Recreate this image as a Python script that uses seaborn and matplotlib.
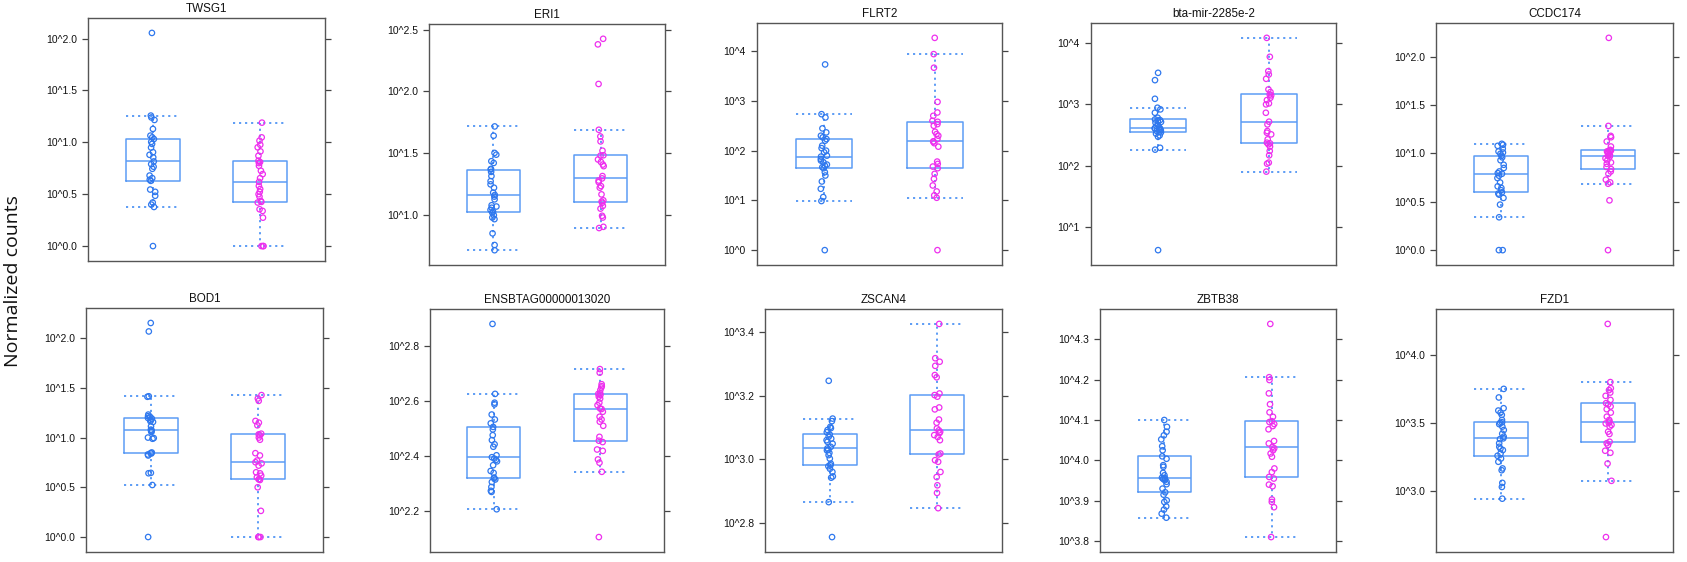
import numpy as np
import pandas as pd
import matplotlib
matplotlib.use("Agg")
import matplotlib.pyplot as plt
import seaborn as sns

# ---------------- data (log10 of normalized counts) ----------------
genes = ["TWSG1", "ERI1", "FLRT2", "bta-mir-2285e-2", "CCDC174",
         "BOD1", "ENSBTAG00000013020", "ZSCAN4", "ZBTB38", "FZD1"]
groups = ["group1", "group2"]

twsg1_g1 = [0.0, 0.377, 0.40, 0.42, 0.485, 0.523, 0.545, 0.629, 0.64, 0.655, 0.68, 0.745, 0.765, 0.79,
            0.816, 0.855, 0.88, 0.905, 0.95, 0.985, 1.005, 1.032, 1.048, 1.065, 1.129, 1.216, 1.24, 1.258, 2.055]
twsg1_g2 = [0.0, 0.0, 0.0, 0.274, 0.339, 0.355, 0.42, 0.426, 0.435, 0.477, 0.50, 0.523, 0.55, 0.58,
            0.619, 0.655, 0.694, 0.726, 0.774, 0.80, 0.81, 0.823, 0.871, 0.913, 0.952, 0.977, 1.016, 1.048, 1.19]

eri1_g1 = [0.717, 0.759, 0.853, 0.968, 0.981, 1.0, 1.021, 1.029, 1.043, 1.06, 1.07, 1.08, 1.128, 1.15,
           1.163, 1.182, 1.222, 1.249, 1.275, 1.316, 1.35, 1.369, 1.374, 1.422, 1.436, 1.489, 1.503, 1.642, 1.717]
eri1_g2 = [0.896, 0.906, 0.981, 0.995, 1.053, 1.075, 1.10, 1.11, 1.12, 1.168, 1.222, 1.235, 1.267, 1.28,
           1.297, 1.316, 1.396, 1.409, 1.43, 1.45, 1.481, 1.484, 1.521, 1.596, 1.636, 1.69, 2.06, 2.38, 2.425]

flrt2_g1 = [0.0, 0.987, 1.067, 1.233, 1.38, 1.5, 1.567, 1.647, 1.667, 1.70, 1.72, 1.767, 1.80, 1.833,
            1.88, 1.9, 1.967, 2.0, 2.05, 2.1, 2.2, 2.233, 2.267, 2.3, 2.367, 2.447, 2.667, 2.733, 3.733]
flrt2_g2 = [0.0, 1.053, 1.1, 1.18, 1.3, 1.433, 1.533, 1.647, 1.68, 1.733, 1.78, 2.08, 2.15, 2.18,
            2.187, 2.233, 2.3, 2.333, 2.38, 2.5, 2.533, 2.58, 2.6, 2.7, 2.767, 2.98, 3.667, 3.94, 4.267]

mir_g1 = [0.627, 2.26, 2.29, 2.47, 2.492, 2.52, 2.54, 2.551, 2.562, 2.575, 2.589, 2.60, 2.605, 2.61,
          2.616, 2.643, 2.66, 2.697, 2.71, 2.724, 2.74, 2.751, 2.778, 2.859, 2.914, 2.941, 3.086, 3.389, 3.508]
mir_g2 = [1.903, 2.032, 2.049, 2.168, 2.238, 2.31, 2.346, 2.362, 2.373, 2.427, 2.508, 2.535, 2.562, 2.67,
          2.714, 2.859, 2.995, 3.011, 3.065, 3.103, 3.141, 3.157, 3.195, 3.238, 3.411, 3.481, 3.535, 3.768, 4.076]

ccdc174_g1 = [0.0, 0.0, 0.34, 0.471, 0.54, 0.574, 0.585, 0.598, 0.62, 0.643, 0.66, 0.70, 0.746, 0.77,
              0.79, 0.797, 0.814, 0.85, 0.883, 0.93, 0.96, 0.976, 0.997, 1.01, 1.021, 1.05, 1.079, 1.09, 1.1]
ccdc174_g2 = [0.0, 0.515, 0.687, 0.701, 0.729, 0.79, 0.814, 0.838, 0.86, 0.893, 0.907, 0.93, 0.95, 0.969,
              0.976, 0.985, 0.997, 1.005, 1.015, 1.021, 1.03, 1.031, 1.038, 1.072, 1.124, 1.168, 1.182, 1.285, 2.196]

bod1_g1 = [0.0, 0.523, 0.641, 0.645, 0.82, 0.83, 0.84, 0.843, 0.85, 0.988, 0.995, 1.0, 1.056, 1.065,
           1.073, 1.08, 1.113, 1.157, 1.165, 1.174, 1.19, 1.197, 1.207, 1.215, 1.231, 1.41, 1.415, 2.067, 2.152]
bod1_g2 = [0.0, 0.0, 0.0, 0.263, 0.5, 0.573, 0.58, 0.583, 0.60, 0.617, 0.64, 0.651, 0.718, 0.74,
           0.752, 0.769, 0.82, 0.843, 0.978, 1.0, 1.022, 1.032, 1.039, 1.123, 1.15, 1.167, 1.369, 1.393, 1.427]

ens_g1 = [2.206, 2.269, 2.273, 2.287, 2.305, 2.314, 2.318, 2.321, 2.338, 2.345, 2.366, 2.38, 2.385, 2.39,
          2.395, 2.402, 2.433, 2.442, 2.457, 2.475, 2.496, 2.505, 2.518, 2.532, 2.55, 2.587, 2.593, 2.625, 2.879]
ens_g2 = [2.105, 2.342, 2.375, 2.387, 2.418, 2.423, 2.45, 2.455, 2.469, 2.509, 2.524, 2.532, 2.542, 2.56,
          2.57, 2.572, 2.584, 2.593, 2.608, 2.615, 2.621, 2.625, 2.627, 2.639, 2.648, 2.653, 2.66, 2.702, 2.715]

zscan4_g1 = [2.755, 2.865, 2.942, 2.946, 2.96, 2.97, 2.978, 2.981, 2.986, 3.002, 3.013, 3.02, 3.028, 3.03,
             3.034, 3.039, 3.049, 3.055, 3.06, 3.065, 3.071, 3.078, 3.085, 3.092, 3.098, 3.102, 3.12, 3.128, 3.247]
zscan4_g2 = [2.846, 2.894, 2.918, 2.944, 2.96, 2.992, 2.997, 3.015, 3.018, 3.06, 3.07, 3.076, 3.082, 3.086,
             3.091, 3.097, 3.115, 3.125, 3.157, 3.163, 3.197, 3.202, 3.207, 3.258, 3.265, 3.294, 3.307, 3.318, 3.426]

zbtb38_g1 = [3.858, 3.868, 3.878, 3.886, 3.897, 3.901, 3.915, 3.921, 3.93, 3.941, 3.947, 3.951, 3.954, 3.955,
             3.956, 3.957, 3.963, 3.969, 3.984, 3.988, 4.004, 4.01, 4.025, 4.035, 4.052, 4.062, 4.071, 4.083, 4.1]
zbtb38_g2 = [3.81, 3.884, 3.897, 3.903, 3.936, 3.94, 3.955, 3.959, 3.971, 3.98, 4.009, 4.017, 4.025, 4.03,
             4.033, 4.042, 4.048, 4.077, 4.085, 4.09, 4.095, 4.097, 4.108, 4.119, 4.139, 4.166, 4.199, 4.206, 4.338]

fzd1_g1 = [2.943, 3.029, 3.059, 3.152, 3.165, 3.214, 3.238, 3.258, 3.275, 3.3, 3.31, 3.324, 3.35, 3.38,
           3.386, 3.398, 3.42, 3.447, 3.472, 3.49, 3.5, 3.504, 3.521, 3.558, 3.575, 3.59, 3.607, 3.686, 3.749]
fzd1_g2 = [2.661, 3.074, 3.201, 3.28, 3.295, 3.337, 3.35, 3.361, 3.418, 3.435, 3.472, 3.484, 3.495, 3.5,
           3.509, 3.521, 3.545, 3.575, 3.6, 3.62, 3.635, 3.644, 3.668, 3.698, 3.722, 3.74, 3.754, 3.799, 4.226]

# y tick positions (log10) and their labels
ticks = [
    [0.0, 0.5, 1.0, 1.5, 2.0],
    [1.0, 1.5, 2.0, 2.5],
    [0, 1, 2, 3, 4],
    [1, 2, 3, 4],
    [0.0, 0.5, 1.0, 1.5, 2.0],
    [0.0, 0.5, 1.0, 1.5, 2.0],
    [2.2, 2.4, 2.6, 2.8],
    [2.8, 3.0, 3.2, 3.4],
    [3.8, 3.9, 4.0, 4.1, 4.2, 4.3],
    [3.0, 3.5, 4.0],
]
ticklabels = [
    ["10^0.0", "10^0.5", "10^1.0", "10^1.5", "10^2.0"],
    ["10^1.0", "10^1.5", "10^2.0", "10^2.5"],
    ["10^0", "10^1", "10^2", "10^3", "10^4"],
    ["10^1", "10^2", "10^3", "10^4"],
    ["10^0.0", "10^0.5", "10^1.0", "10^1.5", "10^2.0"],
    ["10^0.0", "10^0.5", "10^1.0", "10^1.5", "10^2.0"],
    ["10^2.2", "10^2.4", "10^2.6", "10^2.8"],
    ["10^2.8", "10^3.0", "10^3.2", "10^3.4"],
    ["10^3.8", "10^3.9", "10^4.0", "10^4.1", "10^4.2", "10^4.3"],
    ["10^3.0", "10^3.5", "10^4.0"],
]
series = [
    (twsg1_g1, twsg1_g2), (eri1_g1, eri1_g2), (flrt2_g1, flrt2_g2), (mir_g1, mir_g2),
    (ccdc174_g1, ccdc174_g2), (bod1_g1, bod1_g2), (ens_g1, ens_g2), (zscan4_g1, zscan4_g2),
    (zbtb38_g1, zbtb38_g2), (fzd1_g1, fzd1_g2),
]

# ---------------- style ----------------
sns.set_theme(style="white")
plt.rcParams["font.family"] = ["Liberation Sans", "DejaVu Sans"]

W, H = 1687, 562
fig = plt.figure(figsize=(W / 100, H / 100), dpi=100)

# panel frames in pixels: left, top, right, bottom
rects = [
    (88, 18, 325, 261), (429, 24, 665, 265), (757, 23, 1002, 265), (1091, 23, 1336, 265), (1436, 23, 1673, 265),
    (86, 308, 323, 552), (430, 309, 664, 552), (765, 309, 1002, 552), (1100, 309, 1336, 552), (1436, 309, 1673, 552),
]

box_c = "#5c9cf5"
pt_colors = ["#2f78ee", "#ee2fee"]
frame_c = "#555555"
dotted = (0, (1.1, 2.0))

np.random.seed(3)
for i, (gene, (g1, g2)) in enumerate(zip(genes, series)):
    l, t, r, b = rects[i]
    ax = fig.add_axes([l / W, 1 - b / H, (r - l) / W, (b - t) / H])
    df = pd.DataFrame({
        "group": [groups[0]] * len(g1) + [groups[1]] * len(g2),
        "value": list(g1) + list(g2),
    })
    sns.boxplot(data=df, x="group", y="value", order=groups, width=0.5, whis=1.5,
                showfliers=False, fill=False, color=box_c, linewidth=1.1,
                boxprops=dict(color=box_c, linewidth=1.1),
                medianprops=dict(color=box_c, linewidth=1.1),
                whiskerprops=dict(color=box_c, linewidth=1.4, linestyle=dotted),
                capprops=dict(color=box_c, linewidth=1.4, linestyle=dotted),
                capwidths=0.5, ax=ax)
    for g, c in zip(groups, pt_colors):
        sub = df[df["group"] == g]
        sns.stripplot(data=sub, x="group", y="value", order=groups, jitter=0.03,
                      size=3.9, color=c, facecolor="none", edgecolor=c, linewidth=0.9,
                      ax=ax, zorder=3)
    vals = np.array(list(g1) + list(g2))
    lo, hi = vals.min(), vals.max()
    pad = 0.07 * (hi - lo)
    ax.set_ylim(lo - pad, hi + pad)
    ax.set_xlim(-0.6, 1.6)
    ax.set_xticks([])
    ax.set_xlabel("")
    ax.set_ylabel("")
    ax.set_yticks(ticks[i])
    ax.set_yticklabels(ticklabels[i])
    ax.tick_params(axis="y", which="both", left=True, right=True, labelleft=True, labelright=False,
                   direction="out", length=4.5, width=0.9, color="#444444", labelsize=7.5,
                   pad=3.5, labelcolor="#111111")
    for s in ax.spines.values():
        s.set_color(frame_c)
        s.set_linewidth(1.0)
        s.set_visible(True)
    ax.set_title(gene, fontsize=8.4, pad=4, color="#111111")

fig.text(0.008, 0.5, "Normalized counts", rotation=90, ha="center", va="center",
         fontsize=14, family=["Open Sans", "DejaVu Sans"], color="#111111")

fig.savefig("out.png", dpi=100, facecolor="white")
